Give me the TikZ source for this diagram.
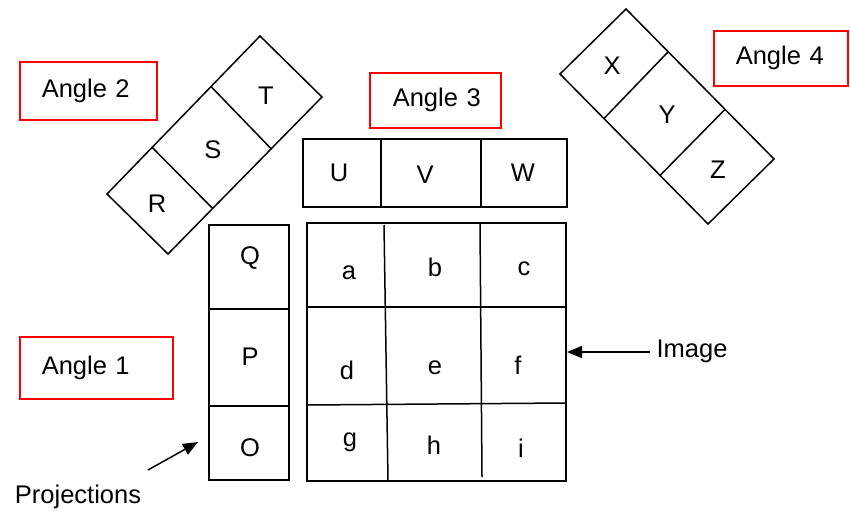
\documentclass[tikz,border=0pt]{standalone}
\usepackage{fontspec}
\setmainfont{Liberation Sans}
\usetikzlibrary{arrows.meta,calc}
\begin{document}
\begin{tikzpicture}[x=1pt,y=-1pt,
  lbl/.style={font=\fontsize{25.5}{30}\selectfont, inner sep=0pt},
  cellline/.style={draw=black, line width=1.5pt, line join=miter},
  anglebox/.style={draw=red, line width=1.6pt, font=\fontsize{25.5}{30}\selectfont,
    inner xsep=0pt, inner ysep=0pt, align=left, anchor=north west},
  arr/.style={line width=1.5pt, -{Triangle[length=15pt,width=12pt]}}]
\useasboundingbox (0,0) rectangle (850,514);

% Angle boxes
\node[anglebox, text width=137pt, minimum height=58pt] (ang2) at (19,61) {\hspace*{22pt}Angle 2};
\node[anglebox, text width=153pt, minimum height=62pt] (ang1) at (19,336) {\hspace*{22pt}Angle 1};
\node[anglebox, text width=131pt, minimum height=55pt] (ang3) at (369,72) {\hspace*{23pt}Angle 3};
\node[anglebox, text width=134pt, minimum height=55pt] (ang4) at (713,30) {\hspace*{22pt}Angle 4};

% Rotated strip R-S-T
\coordinate (rstT) at (260,36);
\coordinate (rstR) at (322,97);
\coordinate (rstB) at (168,254);
\coordinate (rstL) at (107,194);
\draw[cellline] (rstT) -- (rstR) -- (rstB) -- (rstL) -- cycle;
\draw[cellline] ($(rstT)!0.32!(rstL)$) -- ($(rstR)!0.33!(rstB)$);
\draw[cellline] ($(rstT)!0.705!(rstL)$) -- ($(rstR)!0.71!(rstB)$);
\node[lbl] (T) at (266,96) {T};
\node[lbl] (S) at (213,150) {S};
\node[lbl] (R) at (157,204) {R};

% Rotated strip X-Y-Z
\coordinate (xyzT) at (626,9);
\coordinate (xyzL) at (560,74);
\coordinate (xyzR) at (774,159);
\coordinate (xyzB) at (708,224);
\draw[cellline] (xyzT) -- (xyzR) -- (xyzB) -- (xyzL) -- cycle;
\draw[cellline] ($(xyzT)!0.285!(xyzR)$) -- ($(xyzL)!0.297!(xyzB)$);
\draw[cellline] ($(xyzT)!0.669!(xyzR)$) -- ($(xyzL)!0.676!(xyzB)$);
\node[lbl] (X) at (612,66) {X};
\node[lbl] (Y) at (667,115) {Y};
\node[lbl] (Z) at (718,170) {Z};

% U V W
\draw[cellline] (303,139) rectangle (567,207);
\draw[cellline] (381,139) -- (381,207);
\draw[cellline] (481,139) -- (481,207);
\node[lbl] (U) at (339,173) {U};
\node[lbl] (V) at (425,175) {V};
\node[lbl] (W) at (523,173) {W};

% Q P O
\draw[cellline] (209,225) rectangle (289,480);
\draw[cellline] (209,309) -- (289,309);
\draw[cellline] (209,406) -- (289,406);
\node[lbl] (Q) at (250,258) {Q};
\node[lbl] (P) at (250,357) {P};
\node[lbl] (O) at (250,448) {O};

% Image grid
\draw[cellline] (307,223) rectangle (566,481);
\draw[cellline] (384,225) -- (388,481);
\draw[cellline] (480,224) -- (482,477);
\draw[cellline] (307,307) -- (566,307);
\draw[cellline] (307,405) -- (566,403);
\node[lbl] (a) at (349,273) {a};
\node[lbl] (b) at (435,267) {b};
\node[lbl] (c) at (524,269) {c};
\node[lbl] (d) at (347,370) {d};
\node[lbl] (e) at (435,368) {e};
\node[lbl] (f) at (518,365) {f};
\node[lbl] (g) at (350,442) {g};
\node[lbl] (h) at (434,445) {h};
\node[lbl] (i) at (521,448) {i};

% Annotations
\node[lbl] (image) at (692,351) {Image};
\coordinate (imgtail) at (650,352);
\coordinate (imgtip) at (567,352);
\draw[arr] (imgtail) -- (imgtip);

\node[lbl] (proj) at (78,497) {Projections};
\coordinate (projtail) at (148,470);
\coordinate (projtip) at (198,442);
\draw[arr] (projtail) -- (projtip);
\end{tikzpicture}
\end{document}
